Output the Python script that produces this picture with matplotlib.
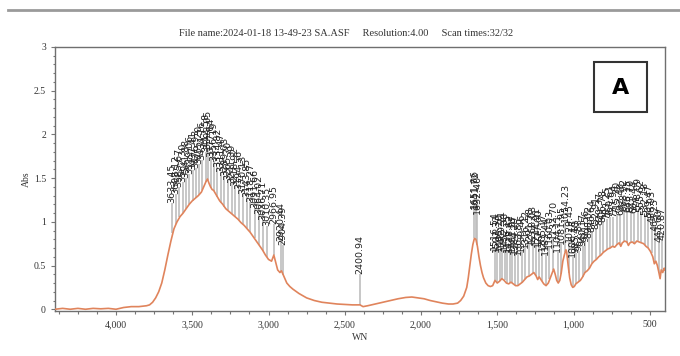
import numpy as np
import matplotlib
matplotlib.use("Agg")
import matplotlib.pyplot as plt
from matplotlib.ticker import MultipleLocator, AutoMinorLocator, FuncFormatter
from matplotlib.lines import Line2D
from matplotlib.patches import Rectangle

# spectrum (wavenumber, absorbance)
wn = [4400, 4350, 4300, 4250, 4200, 4150, 4100, 4050, 4000, 3950, 3900, 3850,
      3800, 3780, 3760, 3740, 3720, 3700, 3680, 3660, 3640, 3620, 3600, 3580,
      3560, 3540, 3520, 3500, 3480, 3460, 3440, 3420, 3410, 3400, 3390, 3380,
      3370, 3360, 3340, 3320, 3300, 3280, 3260, 3240, 3220, 3200, 3180, 3160,
      3140, 3120, 3100, 3080, 3060, 3040, 3020, 3000, 2980, 2965, 2955, 2940,
      2925, 2915, 2900, 2880, 2860, 2840, 2800, 2750, 2700, 2650, 2600, 2550,
      2500, 2450, 2400, 2380, 2350, 2300, 2250, 2200, 2150, 2100, 2060, 2020,
      1980, 1940, 1900, 1860, 1820, 1790, 1760, 1740, 1720, 1700, 1690, 1680,
      1670, 1660, 1650, 1640, 1630, 1620, 1610, 1600, 1590, 1575, 1560, 1545,
      1530, 1515, 1500, 1485, 1470, 1455, 1440, 1425, 1410, 1395, 1380, 1365,
      1350, 1335, 1320, 1305, 1290, 1275, 1260, 1245, 1235, 1225, 1210, 1195,
      1180, 1165, 1150, 1140, 1130, 1120, 1110, 1100, 1090, 1080, 1070, 1060,
      1050, 1045, 1035, 1025, 1015, 1005, 995, 985, 970, 955, 940, 925, 910,
      895, 880, 865, 850, 835, 820, 805, 790, 775, 760, 745, 730, 715, 700,
      690, 680, 665, 650, 640, 630, 615, 600, 585, 570, 555, 540, 525, 510,
      495, 480, 470, 460, 450, 440, 432, 425, 415, 405, 400]
absorb = [0.00, 0.01, 0.00, 0.01, 0.00, 0.01, 0.005, 0.01, 0.00, 0.02, 0.03, 0.03,
          0.04, 0.05, 0.08, 0.13, 0.20, 0.30, 0.45, 0.62, 0.78, 0.92, 1.00, 1.06,
          1.10, 1.15, 1.20, 1.24, 1.27, 1.30, 1.34, 1.42, 1.46, 1.49, 1.44, 1.40,
          1.37, 1.36, 1.30, 1.24, 1.20, 1.15, 1.12, 1.09, 1.06, 1.03, 0.99, 0.96,
          0.92, 0.88, 0.83, 0.78, 0.73, 0.68, 0.62, 0.57, 0.55, 0.62, 0.55, 0.45,
          0.42, 0.44, 0.38, 0.30, 0.26, 0.23, 0.18, 0.13, 0.10, 0.08, 0.07, 0.06,
          0.055, 0.05, 0.05, 0.03, 0.04, 0.06, 0.08, 0.10, 0.12, 0.135, 0.14, 0.13,
          0.12, 0.10, 0.085, 0.07, 0.06, 0.06, 0.07, 0.10, 0.15, 0.25, 0.36, 0.50,
          0.63, 0.74, 0.81, 0.80, 0.72, 0.60, 0.50, 0.42, 0.36, 0.30, 0.27, 0.26,
          0.27, 0.33, 0.30, 0.32, 0.35, 0.33, 0.30, 0.29, 0.31, 0.29, 0.27, 0.27,
          0.29, 0.31, 0.34, 0.37, 0.38, 0.40, 0.42, 0.38, 0.34, 0.37, 0.33, 0.29,
          0.27, 0.30, 0.37, 0.42, 0.46, 0.40, 0.33, 0.30, 0.33, 0.42, 0.55, 0.62,
          0.68, 0.66, 0.50, 0.36, 0.28, 0.25, 0.26, 0.29, 0.31, 0.33, 0.37, 0.42, 0.44,
          0.47, 0.52, 0.55, 0.57, 0.60, 0.62, 0.65, 0.67, 0.69, 0.70, 0.72, 0.71, 0.74, 0.76,
          0.72, 0.76, 0.78, 0.77, 0.73, 0.76, 0.77, 0.75, 0.78, 0.77, 0.76, 0.75, 0.72, 0.70,
          0.66, 0.60, 0.52, 0.55, 0.50, 0.42, 0.35, 0.45, 0.42, 0.47, 0.45]

# picked peaks (wavenumber, absorbance at the peak)
peak_wn = [3633.45, 3608.12, 3585.67, 3562.30, 3541.88, 3519.06, 3497.41, 3476.93,
           3455.20, 3434.76, 3412.58, 3398.05, 3377.64, 3356.19, 3334.82, 3311.47,
           3289.03, 3265.70, 3241.39, 3218.92, 3194.56, 3170.13, 3143.85, 3118.27,
           3091.66, 3064.02, 3036.71, 3010.35, 2966.95, 2920.44, 2904.39,
           2400.94,
           1651.06, 1641.72, 1632.40,
           1516.54, 1502.33, 1485.20, 1469.71, 1452.38, 1436.15, 1418.62, 1401.07,
           1384.29, 1363.85, 1339.46, 1316.22, 1291.58, 1268.03, 1244.91, 1227.60,
           1205.17, 1183.44, 1160.03, 1132.70, 1104.11, 1081.95, 1054.23, 1029.45,
           1006.18, 985.40, 962.83, 940.17, 921.56, 898.02, 876.64, 852.91, 829.37,
           806.78, 783.25, 760.61, 737.94, 715.30, 692.48, 668.92, 646.15, 623.70,
           601.44, 578.09, 555.62, 532.18, 509.47, 486.93, 463.25, 441.60, 420.87]
peak_abs = [0.87, 0.97, 1.05, 1.10, 1.15, 1.20, 1.24, 1.27,
            1.31, 1.36, 1.45, 1.48, 1.39, 1.35, 1.28, 1.22,
            1.17, 1.13, 1.09, 1.06, 1.02, 0.97, 0.93, 0.88,
            0.81, 0.74, 0.67, 0.60, 0.62, 0.43, 0.39,
            0.05,
            0.81, 0.80, 0.74,
            0.33, 0.30, 0.32, 0.35, 0.33, 0.30, 0.30, 0.30,
            0.28, 0.27, 0.30, 0.35, 0.38, 0.41, 0.38, 0.36,
            0.32, 0.27, 0.35, 0.45, 0.31, 0.40, 0.65, 0.42,
            0.25, 0.29, 0.32, 0.37, 0.42, 0.46, 0.53, 0.57, 0.61,
            0.65, 0.68, 0.70, 0.71, 0.74, 0.73, 0.77, 0.76, 0.76,
            0.75, 0.78, 0.76, 0.73, 0.70, 0.64, 0.54, 0.42, 0.44]

title = "File name:2024-01-18 13-49-23 SA.ASF     Resolution:4.00     Scan times:32/32"
serif = ["Liberation Serif", "DejaVu Serif"]
lift = 0.35  # gap between peak and its label

fig = plt.figure(figsize=(6.8, 3.56), dpi=100)
ax = fig.add_axes([55/680, 1 - 311/356, 610/680, 264/356])

# peak markers first so the spectrum sits on top
pk = np.array(peak_abs)
ax.vlines(peak_wn, pk, pk + lift, color="#bdbdbd", lw=1.2, zorder=1)
for w, a in zip(peak_wn, peak_abs):
    ax.text(w, a + lift, f"{w:.2f}", rotation=90, ha="center", va="bottom",
            fontsize=6.8, color="#222222", zorder=2)

ax.plot(wn, absorb, color="#e0845c", lw=1.2, zorder=3)

ax.set_xlim(4400, 400)
ax.set_ylim(-0.02, 3.0)
ax.xaxis.set_major_locator(MultipleLocator(500))
ax.xaxis.set_minor_locator(AutoMinorLocator(4))
ax.yaxis.set_major_locator(MultipleLocator(0.5))
ax.yaxis.set_minor_locator(AutoMinorLocator(5))
ax.xaxis.set_major_formatter(FuncFormatter(lambda v, p: f"{v:,.0f}"))
ax.yaxis.set_major_formatter(FuncFormatter(lambda v, p: f"{v:g}"))
ax.tick_params(which="both", direction="out", color="#777777", width=0.8,
               labelsize=7, labelcolor="#333333")
ax.tick_params(which="major", length=3)
ax.tick_params(which="minor", length=1.8)
for lab in ax.get_xticklabels() + ax.get_yticklabels():
    lab.set_family(serif)
for s in ax.spines.values():
    s.set_color("#6f6f6f")
    s.set_linewidth(1.0)

ax.set_xlabel("WN", family=serif, fontsize=7, color="#333333", labelpad=3)
ax.set_ylabel("Abs", family=serif, fontsize=7, color="#333333", labelpad=2)

fig.text(0.509, 1 - 33/356, title, family=serif, fontsize=7.5,
         color="#333333", ha="center", va="center")

# page separator line and panel letter
fig.add_artist(Line2D([8/680, 1.0], [1 - 10/356, 1 - 10/356],
                      transform=fig.transFigure, color="#9a9a9a", lw=2))
fig.add_artist(Rectangle((594/680, 1 - 112/356), 53/680, 50/356,
                         transform=fig.transFigure, fill=False,
                         ec="#333333", lw=1.5))
fig.text(620.5/680, 1 - 88/356, "A", fontsize=16, weight="bold",
         family="DejaVu Sans", ha="center", va="center", color="black")

fig.savefig("out.png", dpi=100)
